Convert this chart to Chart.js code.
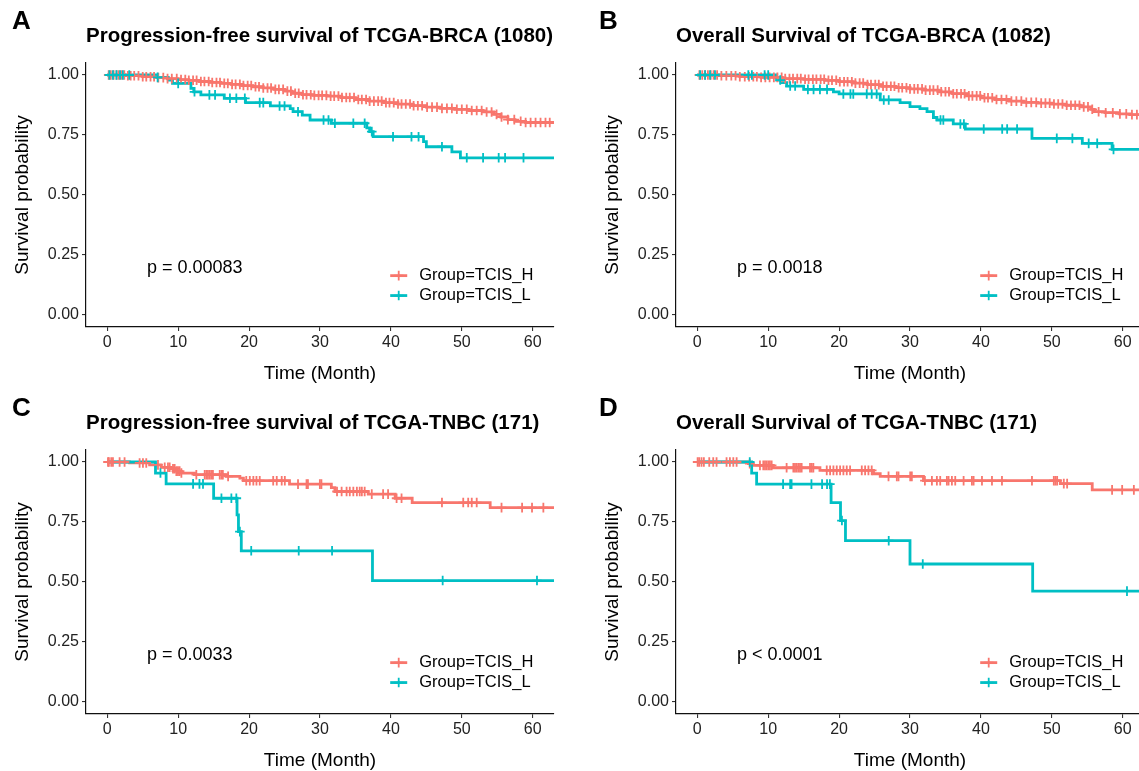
<!DOCTYPE html>
<html>
<head>
<meta charset="utf-8">
<script src="https://cdn.jsdelivr.net/npm/chart.js@4.4.1/dist/chart.umd.min.js"></script>
<style>
  html, body { margin: 0; padding: 0; background: #fff; overflow: hidden; width: 1139px; height: 771px; }
  canvas { position: absolute; }
</style>
</head>
<body>
<canvas id="pA" width="590" height="388" style="left:0;top:0"></canvas>
<canvas id="pB" width="590" height="388" style="left:590px;top:0"></canvas>
<canvas id="pC" width="590" height="388" style="left:0;top:387px"></canvas>
<canvas id="pD" width="590" height="388" style="left:590px;top:387px"></canvas>
<script>
/************ DATA ************/
const xTicks = [0, 10, 20, 30, 40, 50, 60];
const yTicks = [0, 0.25, 0.5, 0.75, 1];
const X_RANGE = [-3, 63];
const Y_RANGE = [-0.05, 1.05];
const groupLabels = ["Group=TCIS_H", "Group=TCIS_L"];
const groupColors = ["#F8766D", "#00BFC4"];

const panelLetters = ["A", "B", "C", "D"];
const panelTitles = [
    "Progression-free survival of TCGA-BRCA (1080)",
    "Overall Survival of TCGA-BRCA (1082)",
    "Progression-free survival of TCGA-TNBC (171)",
    "Overall Survival of TCGA-TNBC (171)"
];
const pValues = ["p = 0.00083", "p = 0.0018", "p = 0.0033", "p < 0.0001"];

// A: PFS TCGA-BRCA
const pfsBrcaH_t = [0, 2.5, 5, 7, 8.5, 10, 11.5, 13, 14.5, 16, 17.5, 19, 20.5, 22, 23.5, 25, 26, 27.5, 29, 31, 33, 35, 37, 39, 41, 43, 45, 47, 49, 51, 53, 54.5, 55.5, 56.5, 57.5, 59];
const pfsBrcaH_s = [1, 0.997, 0.993, 0.989, 0.985, 0.981, 0.978, 0.973, 0.969, 0.965, 0.961, 0.956, 0.951, 0.946, 0.94, 0.933, 0.924, 0.918, 0.915, 0.912, 0.906, 0.898, 0.891, 0.885, 0.879, 0.872, 0.866, 0.861, 0.857, 0.852, 0.846, 0.836, 0.825, 0.814, 0.807, 0.802];
const pfsBrcaH_cens = [0.2, 0.5, 0.9, 1.3, 1.6, 2.0, 2.4, 2.9, 3.3, 3.8, 4.4, 5.0, 5.5, 6.1, 6.6, 7.2, 7.9, 8.5, 9.1, 9.8, 10.4, 11.0, 11.5, 12.1, 12.6, 13.2, 13.7, 14.3, 14.8, 15.4, 15.9, 16.5, 17.0, 17.6, 18.1, 18.7, 19.2, 19.8, 20.3, 20.9, 21.4, 22.0, 22.6, 23.1, 23.7, 24.2, 24.8, 25.4, 25.9, 26.5, 27.0, 27.6, 28.1, 28.7, 29.2, 29.8, 30.3, 30.9, 31.5, 32.0, 32.6, 33.1, 33.7, 34.2, 34.8, 35.4, 35.9, 36.5, 37.0, 37.6, 38.2, 38.7, 39.3, 39.8, 40.4, 41.0, 41.5, 42.1, 42.7, 43.2, 43.8, 44.4, 45.1, 45.8, 46.5, 47.2, 47.9, 48.6, 49.3, 50.0, 50.7, 51.4, 52.1, 52.8, 53.5, 54.2, 54.9, 55.6, 56.5, 57.4, 58.3, 59.0, 59.7, 60.4, 61.1, 61.8, 62.4];
const pfsBrcaL_t = [0, 7, 8.6, 9.2, 11.8, 12.2, 13.2, 16.5, 19.5, 23, 25.8, 26.2, 27.5, 28.6, 31.6, 36.6, 37, 37.5, 44.6, 45, 48.6, 49.8];
const pfsBrcaL_s = [1, 0.99, 0.979, 0.965, 0.944, 0.93, 0.917, 0.903, 0.885, 0.871, 0.86, 0.847, 0.833, 0.8125, 0.799, 0.78, 0.764, 0.743, 0.722, 0.701, 0.68, 0.655];
const pfsBrcaL_cens = [0.3, 0.8, 1.3, 1.8, 2.2, 3.1, 7.1, 10.0, 12.3, 14.4, 15.2, 17.3, 18.2, 19.4, 21.5, 22.0, 24.3, 25.0, 26.9, 30.5, 31.2, 32.1, 34.7, 36.3, 37.3, 40.3, 42.9, 43.9, 47.2, 50.7, 53.0, 55.2, 56.1, 58.7];

// B: OS TCGA-BRCA
const osBrcaH_t = [0, 3, 6, 9, 12, 15, 18, 20, 22, 24, 26, 28, 30, 32, 34, 36, 38, 40, 42, 44, 46, 48, 50, 52, 54, 55.5, 56, 57.5, 59.5, 61];
const osBrcaH_s = [1, 0.997, 0.993, 0.99, 0.985, 0.982, 0.978, 0.972, 0.966, 0.96, 0.953, 0.947, 0.942, 0.937, 0.93, 0.922, 0.913, 0.905, 0.898, 0.891, 0.886, 0.883, 0.879, 0.874, 0.867, 0.857, 0.847, 0.843, 0.838, 0.835];
const osBrcaH_cens = [0.3, 0.7, 1.1, 1.5, 1.9, 2.3, 2.8, 3.4, 4.1, 4.8, 5.4, 6.0, 6.7, 7.3, 7.9, 8.4, 9.0, 9.6, 10.2, 10.8, 11.3, 11.9, 12.4, 13.0, 13.5, 14.1, 14.6, 15.2, 15.7, 16.3, 16.8, 17.4, 17.9, 18.5, 19.0, 19.6, 20.1, 20.7, 21.2, 21.8, 22.3, 22.9, 23.4, 24.0, 24.5, 25.1, 25.6, 26.2, 26.7, 27.3, 27.8, 28.4, 28.9, 29.5, 30.0, 30.6, 31.1, 31.7, 32.2, 32.8, 33.3, 33.9, 34.4, 35.0, 35.5, 36.1, 36.6, 37.2, 37.7, 38.3, 38.8, 39.4, 39.9, 40.5, 41.0, 41.6, 42.2, 42.9, 43.6, 44.3, 45.0, 45.7, 46.4, 47.1, 47.8, 48.5, 49.1, 49.7, 50.3, 50.9, 51.5, 52.1, 52.7, 53.3, 53.9, 54.5, 55.1, 55.7, 56.6, 57.6, 58.6, 59.6, 60.5, 61.3, 62.0, 62.7];
const osBrcaL_t = [0, 11.2, 11.8, 12.6, 15, 19.2, 20, 25.8, 28.6, 30, 31.4, 32.4, 33.3, 33.8, 36.1, 37.8, 47.2, 54.3, 58.5];
const osBrcaL_s = [1, 0.979, 0.968, 0.954, 0.94, 0.93, 0.921, 0.896, 0.885, 0.868, 0.86, 0.847, 0.823, 0.8125, 0.796, 0.775, 0.736, 0.715, 0.69];
const osBrcaL_cens = [0.4, 1.1, 1.8, 2.5, 7.2, 7.7, 9.5, 10.0, 11.7, 13.1, 13.8, 15.6, 16.4, 17.3, 18.3, 20.6, 21.6, 22.0, 23.9, 24.6, 25.3, 26.3, 27.0, 34.3, 34.7, 37.1, 37.6, 40.4, 43.0, 43.7, 45.1, 50.7, 52.9, 55.2, 56.4, 58.7];

// C: PFS TCGA-TNBC
const pfsTnbcH_t = [0, 3.15, 5.97, 7.6, 9.0, 9.6, 10.4, 12.3, 16.8, 18.7, 19.2, 25.7, 31.6, 32.1, 36.8, 40.6, 43.0, 54.0];
const pfsTnbcH_s = [1, 0.996, 0.988, 0.978, 0.972, 0.962, 0.954, 0.947, 0.94, 0.933, 0.922, 0.908, 0.893, 0.877, 0.866, 0.849, 0.831, 0.81];
const pfsTnbcH_cens = [0.1, 0.23, 0.56, 0.8, 1.74, 2.44, 4.56, 5.03, 5.5, 7.15, 8.1, 8.56, 8.8, 9.27, 9.5, 9.74, 9.97, 10.2, 10.45, 12.56, 13.74, 13.98, 14.2, 14.45, 14.68, 14.9, 15.86, 16.1, 16.3, 17.04, 19.6, 20.1, 20.6, 21.04, 21.5, 23.4, 23.9, 24.6, 25.04, 26.9, 28.1, 28.3, 29.98, 30.2, 32.4, 33.05, 33.75, 34.2, 34.7, 35.2, 35.6, 35.9, 36.3, 37.3, 38.9, 39.6, 40.8, 41.5, 47.2, 50.2, 50.9, 51.4, 52.1, 55.6, 58.5, 59.9, 61.5];
const pfsTnbcL_t = [0, 6.8, 8.3, 15.0, 18.3, 18.5, 18.9, 37.4];
const pfsTnbcL_s = [1, 0.954, 0.909, 0.849, 0.78, 0.71, 0.63, 0.506];
const pfsTnbcL_cens = [7.5, 12.1, 13.0, 13.5, 16.1, 17.5, 18.2, 18.7, 20.3, 27.0, 31.7, 47.3, 60.6];

// D: OS TCGA-TNBC
const osTnbcH_t = [0, 7.2, 7.9, 10.7, 17.3, 24.85, 25.8, 31.9, 51.2, 55.7];
const osTnbcH_s = [1, 0.993, 0.986, 0.976, 0.965, 0.951, 0.94, 0.922, 0.91, 0.884];
const osTnbcH_cens = [0.05, 0.27, 0.6, 0.93, 1.69, 2.25, 2.72, 4.13, 4.6, 5.08, 5.55, 7.4, 8.84, 9.31, 9.55, 9.78, 10.02, 10.25, 10.49, 12.6, 13.55, 13.78, 14.02, 14.26, 14.49, 14.72, 15.9, 16.14, 16.37, 18.26, 18.73, 19.2, 19.67, 20.14, 20.61, 21.08, 21.55, 23.2, 23.67, 24.14, 24.6, 26.97, 28.14, 28.38, 30.03, 30.26, 32.1, 33.09, 33.79, 34.26, 35.2, 35.44, 35.91, 36.38, 37.56, 38.73, 38.97, 40.15, 41.56, 42.97, 47.2, 50.28, 50.51, 50.75, 51.69, 52.16, 58.5, 59.92, 61.57];
const osTnbcL_t = [0, 7.67, 8.37, 18.87, 20.2, 20.9, 30.0, 47.3];
const osTnbcL_s = [1, 0.954, 0.908, 0.831, 0.756, 0.672, 0.575, 0.462];
const osTnbcL_cens = [7.4, 12.1, 13.1, 13.3, 16.1, 17.6, 18.3, 18.7, 20.4, 27.0, 31.8, 60.6];

/************ LAYOUT ************/
const FONT = '"Liberation Sans", Arial, Helvetica, sans-serif';
const P_POS = [5.6, 0.2];              // p-value anchor (data units)
const LEG_ROWS = [0.164, 0.081];       // legend row centres (data units)
const LEG_LINE = [39.9, 42.3];         // legend key line (data units)
const LEG_TEXT = 44.0;
const CROSS = 4.8;

/************ HELPERS ************/
// value of the step curve at time c
function survAt(ts, ss, c) {
    let v = ss[0];
    for (let i = 0; i < ts.length; i++) if (ts[i] <= c) v = ss[i];
    return v;
}

const annot = {
    id: "annot",
    afterDatasetsDraw(chart, args, o) {
        const { ctx, scales: { x, y } } = chart;
        ctx.save();
        ctx.fillStyle = "#000";
        ctx.textAlign = "left";
        ctx.textBaseline = "middle";

        ctx.font = "bold 26px " + FONT;
        ctx.fillText(o.letter, o.letterX, 22);

        ctx.font = "18px " + FONT;
        ctx.fillText(o.pText, x.getPixelForValue(P_POS[0]), y.getPixelForValue(P_POS[1]) + 1);

        groupLabels.forEach((lab, i) => {
            const yy = y.getPixelForValue(LEG_ROWS[i]);
            const x1 = x.getPixelForValue(LEG_LINE[0]), x2 = x.getPixelForValue(LEG_LINE[1]);
            const xc = (x1 + x2) / 2;
            ctx.strokeStyle = groupColors[i];
            ctx.lineWidth = 2.8;
            ctx.beginPath(); ctx.moveTo(x1, yy); ctx.lineTo(x2, yy); ctx.stroke();
            ctx.lineWidth = 1.8;
            ctx.beginPath();
            ctx.moveTo(xc, yy - CROSS); ctx.lineTo(xc, yy + CROSS);
            ctx.moveTo(xc - CROSS, yy); ctx.lineTo(xc + CROSS, yy);
            ctx.stroke();
            ctx.fillStyle = "#000";
            ctx.font = "16.5px " + FONT;
            ctx.fillText(lab, x.getPixelForValue(LEG_TEXT), yy);
        });
        ctx.restore();
    }
};

/************ PANEL ************/
function makePanel(id, idx, curves) {
    const datasets = [];
    curves.forEach((c, g) => {
        const pts = c.t.map((v, i) => ({ x: v, y: c.s[i] }));
        pts.push({ x: X_RANGE[1], y: c.s[c.s.length - 1] });
        datasets.push({
            type: "line",
            label: groupLabels[g],
            data: pts,
            stepped: true,
            borderColor: groupColors[g],
            borderWidth: 2.8,
            pointRadius: 0,
            fill: false,
            order: 4 - g
        });
    });
    curves.forEach((c, g) => {
        datasets.push({
            type: "scatter",
            label: groupLabels[g] + " censored",
            data: c.cens.map(v => ({ x: v, y: survAt(c.t, c.s, v) })),
            pointStyle: "cross",
            pointRadius: CROSS,
            pointBorderWidth: 1.8,
            borderWidth: 1.8,
            borderColor: groupColors[g],
            backgroundColor: groupColors[g],
            showLine: false,
            order: 2 - g
        });
    });

    new Chart(document.getElementById(id), {
        type: "line",
        data: { datasets },
        options: {
            responsive: false,
            animation: false,
            devicePixelRatio: 1,
            layout: { padding: { left: 0, right: 36, top: 0, bottom: 0 } },
            plugins: {
                legend: { display: false },
                tooltip: { enabled: false },
                title: {
                    display: true,
                    text: panelTitles[idx],
                    align: "start",
                    fullSize: false,
                    color: "#000",
                    font: { family: FONT, size: 20.5, weight: "bold" },
                    padding: { top: 24.5, bottom: 13.9 }
                },
                annot: { letter: panelLetters[idx], letterX: idx % 2 ? 9 : 12, pText: pValues[idx] }
            },
            scales: {
                x: {
                    type: "linear",
                    min: X_RANGE[0],
                    max: X_RANGE[1],
                    afterBuildTicks: s => { s.ticks = xTicks.map(v => ({ value: v })); },
                    afterFit: s => { s.height = 61; },
                    ticks: { color: "#222", font: { family: FONT, size: 16 }, padding: 2, maxRotation: 0, autoSkip: false },
                    grid: { drawOnChartArea: false, drawTicks: true, tickLength: 4, color: "#333", lineWidth: 1.1 },
                    border: { display: true, color: "#111", width: 1.2 },
                    title: { display: true, text: "Time (Month)", color: "#000", font: { family: FONT, size: 19 }, padding: { top: 0, bottom: 2.5 } }
                },
                y: {
                    type: "linear",
                    min: Y_RANGE[0],
                    max: Y_RANGE[1],
                    afterBuildTicks: s => { s.ticks = yTicks.map(v => ({ value: v })); },
                    afterFit: s => { s.width = 86; },
                    ticks: { color: "#222", font: { family: FONT, size: 16 }, padding: 3, callback: v => v.toFixed(2) },
                    grid: { drawOnChartArea: false, drawTicks: true, tickLength: 4, color: "#333", lineWidth: 1.1 },
                    border: { display: true, color: "#111", width: 1.2 },
                    title: { display: true, text: "Survival probability", color: "#000", font: { family: FONT, size: 19 }, padding: { top: 11, bottom: 0 } }
                }
            }
        },
        plugins: [annot]
    });
}

/************ INIT ************/
makePanel("pA", 0, [
    { t: pfsBrcaH_t, s: pfsBrcaH_s, cens: pfsBrcaH_cens },
    { t: pfsBrcaL_t, s: pfsBrcaL_s, cens: pfsBrcaL_cens }
]);
makePanel("pB", 1, [
    { t: osBrcaH_t, s: osBrcaH_s, cens: osBrcaH_cens },
    { t: osBrcaL_t, s: osBrcaL_s, cens: osBrcaL_cens }
]);
makePanel("pC", 2, [
    { t: pfsTnbcH_t, s: pfsTnbcH_s, cens: pfsTnbcH_cens },
    { t: pfsTnbcL_t, s: pfsTnbcL_s, cens: pfsTnbcL_cens }
]);
makePanel("pD", 3, [
    { t: osTnbcH_t, s: osTnbcH_s, cens: osTnbcH_cens },
    { t: osTnbcL_t, s: osTnbcL_s, cens: osTnbcL_cens }
]);
</script>
</body>
</html>
